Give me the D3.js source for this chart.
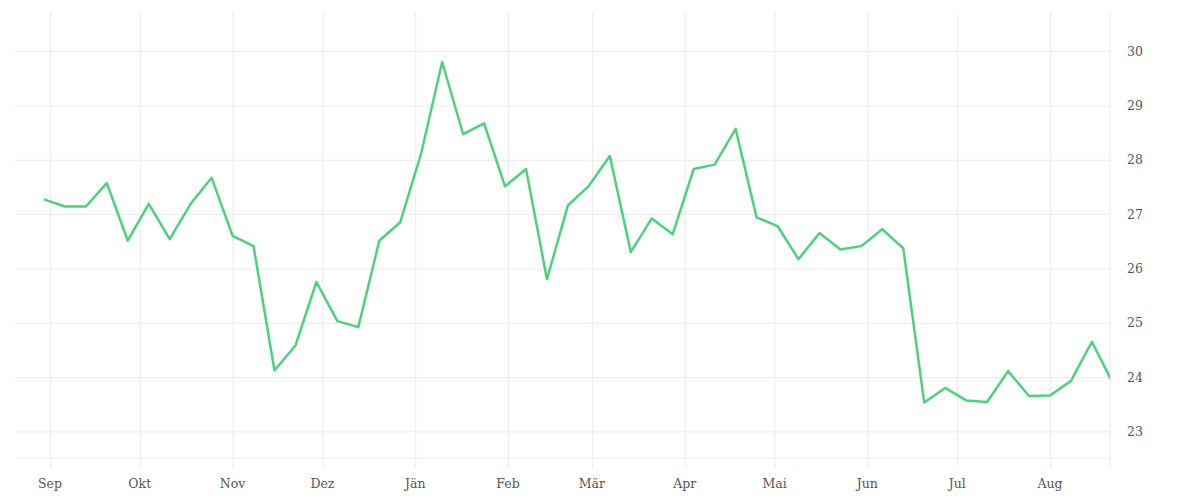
<!DOCTYPE html>
<meta charset="utf-8">
<style>
body{margin:0;background:#fff;font-family:"DejaVu Serif",serif;}
.grid line{stroke:#ebebeb;stroke-width:1;}
.grid path{display:none;}
.lab text{fill:#555;font-size:12.5px;}
</style>
<body>
<div id="container"></div>
<script src="https://d3js.org/d3.v7.min.js"></script>
<script>

var width = 1200,
    height = 500;

// weekly values, starting Thu 30 Aug 2018
var startDate = "2018-08-30";
var values = [27.27, 27.14, 27.14, 27.57, 26.51, 27.19, 26.54, 27.19, 27.67, 26.60,
              26.41, 24.12, 24.58, 25.75, 25.03, 24.92, 26.51, 26.85, 28.12, 29.80,
              28.47, 28.67, 27.51, 27.83, 25.80, 27.16, 27.52, 28.07, 26.30, 26.92,
              26.63, 27.83, 27.91, 28.57, 26.94, 26.78, 26.17, 26.65, 26.35, 26.41,
              26.72, 26.37, 23.53, 23.80, 23.57, 23.54, 24.11, 23.65, 23.66, 23.93,
              24.65, 23.89];
var monthLabels = ["Sep", "Okt", "Nov", "Dez", "Jän", "Feb", "Mär", "Apr", "Mai", "Jun", "Jul", "Aug"];
var yTicks = [23, 24, 25, 26, 27, 28, 29, 30];

var parse = d3.utcParse("%Y-%m-%d");
var t0 = parse(startDate);
var data = values.map(function(v, i) {
  return {date: d3.utcDay.offset(t0, i * 7), value: v};
});

var plotL = 15, plotR = 1110, plotT = 12, plotB = 458;

var x = d3.scaleUtc()
    .domain([new Date(Date.UTC(2018, 7, 20, 8)), new Date(Date.UTC(2019, 7, 21, 1))])
    .range([plotL, plotR]);

var y = d3.scaleLinear()
    .domain([22.51, 30.72])
    .range([plotB, plotT]);

var months = d3.utcMonth.range(new Date(Date.UTC(2018, 8, 1)), new Date(Date.UTC(2019, 8, 1)));

var svg = d3.select("#container").append("svg")
    .attr("width", width)
    .attr("height", height);

// horizontal grid
svg.append("g")
    .attr("class", "grid")
    .attr("transform", "translate(" + plotL + ",0)")
    .call(d3.axisRight(y).tickValues(yTicks).tickSize(plotR - plotL).tickFormat(""));

svg.append("line")
    .attr("x1", plotL).attr("x2", plotR)
    .attr("y1", plotB).attr("y2", plotB)
    .style("stroke", "#ebebeb");

// vertical grid, running past the baseline as ticks
svg.append("g")
    .attr("class", "grid")
    .attr("transform", "translate(0," + plotT + ")")
    .call(d3.axisBottom(x).tickValues(months).tickSize(plotB - plotT + 10).tickFormat(""));

svg.append("line")
    .attr("x1", plotR).attr("x2", plotR)
    .attr("y1", plotT).attr("y2", plotB + 10)
    .style("stroke", "#ebebeb");

// labels
svg.append("g")
    .attr("class", "lab")
    .selectAll("text")
    .data(months)
  .enter().append("text")
    .attr("x", function(d) { return x(d); })
    .attr("y", 488)
    .attr("text-anchor", "middle")
    .text(function(d, i) { return monthLabels[i]; });

svg.append("g")
    .attr("class", "lab")
    .selectAll("text")
    .data(yTicks)
  .enter().append("text")
    .attr("x", 1127)
    .attr("y", function(d) { return y(d) + 4.5; })
    .text(function(d) { return d; });

svg.append("clipPath")
    .attr("id", "clip")
  .append("rect")
    .attr("x", plotL).attr("y", 0)
    .attr("width", plotR - plotL).attr("height", height);

var line = d3.line()
    .x(function(d) { return x(d.date); })
    .y(function(d) { return y(d.value); });

svg.append("path")
    .datum(data)
    .attr("clip-path", "url(#clip)")
    .attr("d", line)
    .style("fill", "none")
    .style("stroke", "#4cd27c")
    .style("stroke-width", 2.5)
    .style("stroke-linejoin", "round");

</script>
</body>
</html>
